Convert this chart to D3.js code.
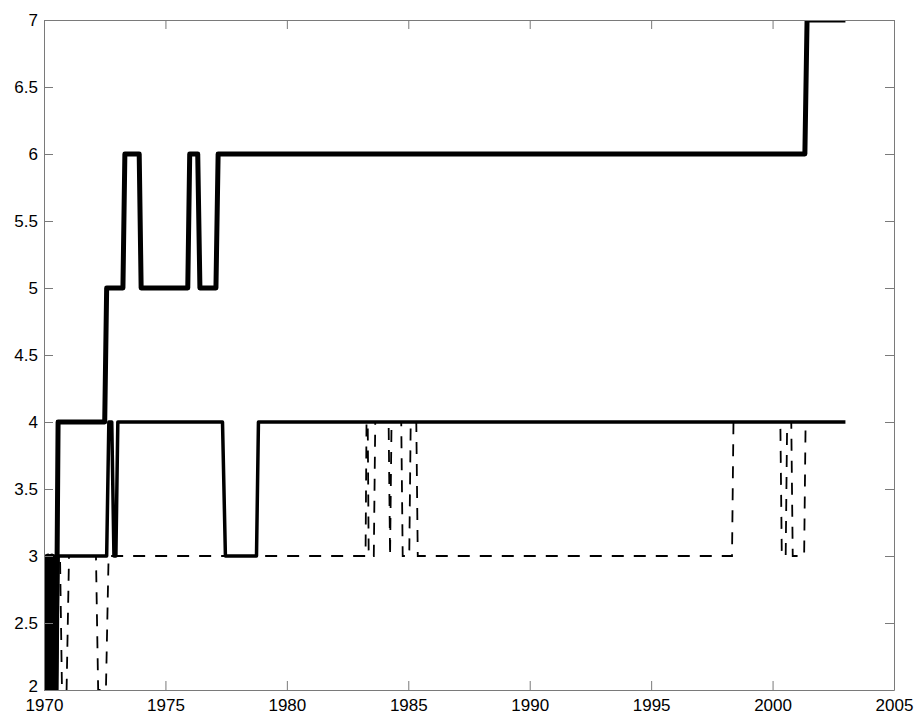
<!DOCTYPE html>
<html>
<head>
<meta charset="utf-8">
<script src="https://cdn.jsdelivr.net/npm/d3@7"></script>
<style>
  html, body { margin: 0; padding: 0; background: #fff; }
  svg { display: block; }
</style>
</head>
<body>
<script>
// ---- data ----
const xTicks = [1970, 1975, 1980, 1985, 1990, 1995, 2000, 2005];
const yTicks = [2, 2.5, 3, 3.5, 4, 4.5, 5, 5.5, 6, 6.5, 7];

// thick solid series
const datesA  = [1970.00,1970.08,1970.17,1970.25,1970.33,1970.42,1970.50,1970.58,1972.50,1972.58,1973.25,1973.33,1973.92,1974.00,1975.92,1976.00,1976.33,1976.42,1977.08,1977.17,2001.33,2001.42,2003.00];
const valuesA = [3,2,3,2,3,2,2,4,4,5,5,6,6,5,5,6,6,5,5,6,6,7,7];

// medium solid series
const datesB  = [1970.00,1970.08,1970.17,1970.25,1970.33,1970.42,1970.50,1970.58,1972.58,1972.67,1972.79,1972.88,1972.96,1973.04,1977.35,1977.47,1978.75,1978.83,2003.00];
const valuesB = [2,3,2,3,2,3,2,3,3,4,4,3,3,4,4,3,3,4,4];

// dashed series
const datesC  = [1970.00,1970.66,1970.74,1970.93,1971.03,1972.14,1972.23,1972.55,1972.66,1983.24,1983.28,1983.33,1983.37,1983.58,1983.64,1984.19,1984.25,1984.31,1984.71,1984.77,1985.04,1985.10,1985.33,1985.39,1998.33,1998.39,2000.32,2000.38,2000.54,2000.60,2000.77,2000.83,2001.30,2001.36,2003.00];
const valuesC = [3,3,2,2,3,3,2,2,3,3,4,4,3,3,4,4,3,4,4,3,3,4,4,3,3,4,4,3,3,4,4,3,3,4,4];

// ---- layout ----
const W = 916, H = 715;
const L = 44, T = 20, R = 894, B = 690;
const FONT = '"Liberation Sans", Arial, Helvetica, sans-serif';
const AXC = '#7a7a7a';

const svg = d3.select('body').append('svg').attr('width', W).attr('height', H);
svg.append('rect').attr('width', W).attr('height', H).attr('fill', '#fff');

const x = d3.scaleLinear().domain([1970, 2005]).range([L, R]);
const y = d3.scaleLinear().domain([2, 7]).range([B, T]);

svg.append('clipPath').attr('id', 'plotclip')
  .append('rect').attr('x', L).attr('y', T).attr('width', R - L).attr('height', B - T);

const line = d3.line().x(d => x(d[0])).y(d => y(d[1]));
const zip = (a, b) => a.map((v, i) => [v, b[i]]);

const g = svg.append('g').attr('clip-path', 'url(#plotclip)');
g.append('path').datum(zip(datesC, valuesC)).attr('d', line)
  .attr('fill', 'none').attr('stroke', '#000').attr('stroke-width', 1.8)
  .attr('stroke-dasharray', '12,10');
g.append('path').datum(zip(datesB, valuesB)).attr('d', line)
  .attr('fill', 'none').attr('stroke', '#000').attr('stroke-width', 3.5)
  .attr('stroke-linejoin', 'round');
g.append('path').datum(zip(datesA, valuesA)).attr('d', line)
  .attr('fill', 'none').attr('stroke', '#000').attr('stroke-width', 5)
  .attr('stroke-linejoin', 'round');

// ---- axes ----
function styleAxis(sel) {
  sel.attr('color', AXC).attr('font-family', FONT).attr('font-size', 17);
  sel.selectAll('text').attr('fill', '#000');
  sel.select('.domain').attr('stroke', AXC);
}

svg.append('g').attr('transform', `translate(0,${B})`)
  .call(d3.axisBottom(x).tickValues(xTicks).tickFormat(d3.format('d'))
    .tickSizeInner(-9).tickSizeOuter(0).tickPadding(9))
  .call(styleAxis);

svg.append('g').attr('transform', `translate(0,${T})`)
  .call(d3.axisTop(x).tickValues(xTicks).tickFormat('')
    .tickSizeInner(-9).tickSizeOuter(0))
  .call(styleAxis);

const yAx = svg.append('g').attr('transform', `translate(${L},0)`)
  .call(d3.axisLeft(y).tickValues(yTicks).tickFormat(d => String(d))
    .tickSizeInner(-9).tickSizeOuter(0).tickPadding(6))
  .call(styleAxis);
// nudge the lowest label up a little so it clears the "1970" label
yAx.selectAll('.tick').filter(d => d === 2).select('text').attr('dy', '0.1em');

svg.append('g').attr('transform', `translate(${R},0)`)
  .call(d3.axisRight(y).tickValues(yTicks).tickFormat('')
    .tickSizeInner(-9).tickSizeOuter(0))
  .call(styleAxis);
</script>
</body>
</html>
